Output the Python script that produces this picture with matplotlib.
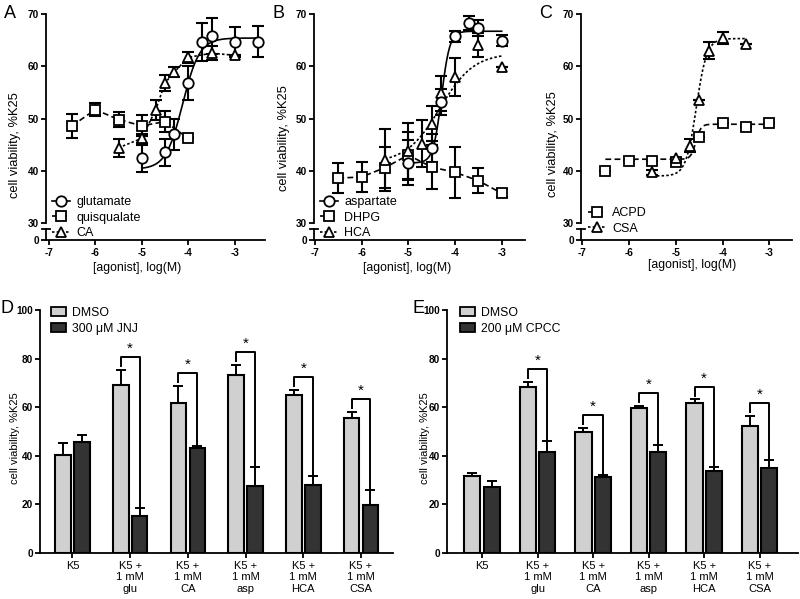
import matplotlib.pyplot as plt
import numpy as np
from matplotlib.lines import Line2D
from matplotlib.patches import Patch

plt.rcParams['font.family'] = ['Liberation Sans', 'DejaVu Sans']
plt.rcParams['axes.linewidth'] = 1.3
plt.rcParams['axes.unicode_minus'] = False

W, H = 800, 599

# ---------------- panel A ----------------
glu_x = [-5, -4.5, -4.3, -4, -3.7, -3.5, -3, -2.5]
glu_y = [42.4, 43.5, 47.0, 56.8, 64.6, 65.8, 64.7, 64.7]
glu_err = [2.6, 2.5, 3.0, 3.2, 3.6, 3.4, 2.9, 3.0]
glu_fit = [40.3, 65.4, -4.12, 2.4]          # bottom, top, logEC50, hill

quis_x = [-6.5, -6, -5.5, -5, -4.5, -4]
quis_y = [48.6, 51.7, 49.8, 48.6, 49.4, 46.2]
quis_err = [2.3, 1.2, 1.4, 2.0, 2.0, 0]

ca_x = [-5.5, -5, -4.7, -4.5, -4.3, -4, -3.5, -3]
ca_y = [44.4, 46.2, 51.7, 56.8, 58.9, 61.7, 62.5, 62.1]
ca_err = [1.7, 0.9, 1.9, 1.6, 1.0, 1.1, 1.3, 0]

# ---------------- panel B ----------------
asp_x = [-5, -4.5, -4.3, -4, -3.7, -3.5, -3]
asp_y = [41.5, 44.3, 53.1, 65.7, 68.3, 67.3, 64.9]
asp_err = [4.3, 2.7, 2.5, 1.1, 1.3, 1.6, 1.0]
asp_fit = [41.5, 66.7, -4.29, 4.9]

dhpg_x = [-6.5, -6, -5.5, -5, -4.5, -4, -3.5, -3]
dhpg_y = [38.6, 38.8, 40.6, 43.0, 40.7, 39.7, 38.1, 35.7]
dhpg_err = [2.8, 2.9, 3.9, 4.5, 4.2, 4.9, 2.4, 0.8]

hca_x = [-5.5, -5, -4.7, -4.5, -4.3, -4, -3.5, -3]
hca_y = [42.0, 43.7, 45.2, 49.0, 54.8, 58.0, 64.0, 59.8]
hca_err = [5.9, 5.5, 4.5, 3.3, 3.4, 3.6, 2.3, 0]
hca_fit = [41.5, 62.5, -4.32, 1.2]

# ---------------- panel C ----------------
acpd_x = [-6.5, -6, -5.5, -5, -4.5, -4, -3.5, -3]
acpd_y = [39.9, 41.9, 41.9, 41.6, 46.5, 49.1, 48.4, 49.1]
acpd_err = [0, 0, 0, 0, 0, 0, 0, 0]
acpd_fit = [42.2, 48.9, -4.57, 8.0]

csa_x = [-5.5, -5, -4.7, -4.5, -4.3, -4, -3.5]
csa_y = [39.7, 42.4, 44.8, 53.6, 63.0, 65.4, 64.3]
csa_err = [0.5, 0, 1.3, 0, 1.7, 1.2, 0]
csa_fit = [39.0, 65.3, -4.56, 3.9]

# ---------------- panels D / E ----------------
groups = ['K5', 'K5 +\n1 mM\nglu', 'K5 +\n1 mM\nCA', 'K5 +\n1 mM\nasp',
          'K5 +\n1 mM\nHCA', 'K5 +\n1 mM\nCSA']

d_dmso = [40.4, 69.2, 61.6, 73.3, 65.1, 55.5]
d_dmso_err = [4.8, 6.2, 7.3, 4.1, 2.1, 2.7]
d_jnj = [45.5, 15.3, 43.4, 27.4, 27.8, 19.9]
d_jnj_err = [2.9, 3.2, 0.5, 8.0, 3.7, 5.9]

e_dmso = [31.8, 68.2, 49.6, 59.5, 61.6, 52.3]
e_dmso_err = [1.2, 2.3, 1.8, 1.1, 1.6, 4.1]
e_cpcc = [27.3, 41.4, 31.1, 41.4, 33.6, 34.9]
e_cpcc_err = [2.2, 4.5, 0.8, 2.9, 1.8, 3.4]


def hill(x, p):
    bottom, top, logec50, slope = p
    return bottom + (top - bottom) / (1 + 10 ** ((logec50 - x) * slope))


def px_axes(fig, left, top, right, bottom):
    return fig.add_axes([left / W, 1 - bottom / H, (right - left) / W, (bottom - top) / H])


def curve_panel(fig, left, right, xlim):
    ax = px_axes(fig, left, 14, right, 223)
    axb = px_axes(fig, left, 229, right, 240)
    for a in (ax, axb):
        a.set_xlim(xlim)
        a.spines['top'].set_visible(False)
        a.spines['right'].set_visible(False)
        a.patch.set_alpha(0)
        a.tick_params(direction='out', length=3.5, width=1.3, pad=1.5)
    ax.spines['bottom'].set_visible(False)
    ax.set_ylim(30, 70)
    ax.set_yticks([30, 40, 50, 60, 70])
    ax.tick_params(axis='x', bottom=False, labelbottom=False)
    axb.set_ylim(0, 2)
    axb.set_yticks([0])
    axb.set_xticks([-7, -6, -5, -4, -3])
    axb.tick_params(axis='x', pad=2)
    axb.plot([-0.02, 0.02], [1, 1], transform=axb.transAxes, color='k', lw=1.3, clip_on=False)
    for lab in ax.get_yticklabels() + axb.get_yticklabels() + axb.get_xticklabels():
        lab.set_fontweight('bold')
        lab.set_fontsize(7.2)
    return ax, axb


LS = {'solid': '-', 'dash': (0, (3.5, 2)), 'dot': (0, (1.5, 1.3))}


def series(ax, x, y, err, marker, ls, fit=None, fit_range=None):
    if fit is not None:
        xs = np.linspace(fit_range[0], fit_range[1], 200)
        ax.plot(xs, hill(xs, fit), color='k', ls=LS[ls], lw=1.2, zorder=2)
    else:
        ax.plot(x, y, color='k', ls=LS[ls], lw=1.2, zorder=2)
    ax.errorbar(x, y, yerr=err, fmt='none', ecolor='k', elinewidth=1.5,
                capsize=4, capthick=1.5, zorder=3, clip_on=False)
    ax.plot(x, y, ls='none', marker=marker, ms=7.5, mfc='white', mec='k',
            mew=1.3, zorder=4, clip_on=False)


def handle(marker, ls):
    return Line2D([], [], color='k', ls=LS[ls], lw=1.2, marker=marker, ms=7.5,
                  mfc='white', mec='k', mew=1.3)


def curve_legend(fig, x, y, handles, labels):
    fig.legend(handles, labels, loc='upper left', bbox_to_anchor=(x / W, 1 - y / H),
               frameon=False, fontsize=9, handlelength=1.4, handletextpad=0.55,
               labelspacing=0.3, borderpad=0, borderaxespad=0)


fig = plt.figure(figsize=(8, 5.99), dpi=100)

# A
ax, axb = curve_panel(fig, 46, 265, (-7.06, -2.35))
series(ax, quis_x, quis_y, quis_err, 's', 'dash')
series(ax, ca_x, ca_y, ca_err, '^', 'dot')
series(ax, glu_x, glu_y, glu_err, 'o', 'solid', glu_fit, (-5, -2.5))
curve_legend(fig, 52, 196, [handle('o', 'solid'), handle('s', 'dash'), handle('^', 'dot')],
             ['glutamate', 'quisqualate', 'CA'])
fig.text(15 / W, 1 - 145 / H, 'cell viability, %K25', rotation=90, ha='center', va='center', fontsize=9.3)
fig.text(137 / W, 1 - 268 / H, '[agonist], log(M)', ha='center', va='center', fontsize=8.8)

# B
ax, axb = curve_panel(fig, 314, 525, (-7.02, -2.5))
series(ax, dhpg_x, dhpg_y, dhpg_err, 's', 'dash')
series(ax, hca_x, hca_y, hca_err, '^', 'dot', hca_fit, (-5.5, -3))
series(ax, asp_x, asp_y, asp_err, 'o', 'solid', asp_fit, (-5, -3))
curve_legend(fig, 320, 196, [handle('o', 'solid'), handle('s', 'dash'), handle('^', 'dot')],
             ['aspartate', 'DHPG', 'HCA'])
fig.text(284 / W, 1 - 138 / H, 'cell viability, %K25', rotation=90, ha='center', va='center', fontsize=9.3)
fig.text(407 / W, 1 - 268 / H, '[agonist], log(M)', ha='center', va='center', fontsize=8.8)

# C
ax, axb = curve_panel(fig, 581, 792, (-7.02, -2.52))
series(ax, acpd_x, acpd_y, acpd_err, 's', 'dash', acpd_fit, (-6.5, -3))
series(ax, csa_x, csa_y, csa_err, '^', 'dot', csa_fit, (-5.5, -3.5))
curve_legend(fig, 588, 207, [handle('s', 'dash'), handle('^', 'dot')], ['ACPD', 'CSA'])
fig.text(553 / W, 1 - 144 / H, 'cell viability, %K25', rotation=90, ha='center', va='center', fontsize=9.3)
fig.text(692 / W, 1 - 265 / H, '[agonist], log(M)', ha='center', va='center', fontsize=8.8)


def bar_panel(fig, left, right, xlim, dmso, dmso_err, drug, drug_err, drug_label,
              offset, width, legend_x, ylabel_x):
    ax = px_axes(fig, left, 310, right, 553)
    pos = np.arange(len(groups))
    light, dark = '#d0d0d0', '#333333'
    ax.bar(pos - offset, dmso, width, color=light, edgecolor='k', linewidth=1.5,
           yerr=[np.zeros(len(dmso)), dmso_err], capsize=3.5,
           error_kw=dict(elinewidth=1.4, capthick=1.4), label='DMSO')
    ax.bar(pos + offset, drug, width, color=dark, edgecolor='k', linewidth=1.5,
           yerr=[np.zeros(len(drug)), drug_err], capsize=3.5,
           error_kw=dict(elinewidth=1.4, capthick=1.4), label=drug_label)
    # significance brackets for the agonist groups
    for i in range(1, len(groups)):
        l_top = dmso[i] + dmso_err[i]
        r_top = drug[i] + drug_err[i]
        top = l_top + 5.2
        ax.plot([pos[i] - offset, pos[i] - offset, pos[i] + offset, pos[i] + offset],
                [l_top + 1.5, top, top, r_top + 0.7], color='k', lw=1.4)
        ax.text(pos[i], top + 0.6, '*', ha='center', va='bottom', fontsize=11)
    ax.set_xlim(xlim)
    ax.set_ylim(0, 100)
    ax.set_yticks([0, 20, 40, 60, 80, 100])
    ax.set_xticks(pos)
    ax.set_xticklabels(groups, fontsize=8, linespacing=1.2)
    ax.spines['top'].set_visible(False)
    ax.spines['right'].set_visible(False)
    ax.tick_params(direction='out', length=3.5, width=1.3, pad=1.5)
    ax.tick_params(axis='x', pad=2)
    for lab in ax.get_yticklabels():
        lab.set_fontweight('bold')
        lab.set_fontsize(7.2)
    handles = [Patch(facecolor=light, edgecolor='k', linewidth=1.3),
               Patch(facecolor=dark, edgecolor='k', linewidth=1.3)]
    fig.legend(handles, ['DMSO', drug_label], loc='upper left',
               bbox_to_anchor=(legend_x / W, 1 - 307 / H), frameon=False, fontsize=8.8,
               handlelength=1.25, handleheight=0.7, handletextpad=0.5,
               labelspacing=0.3, borderpad=0, borderaxespad=0)
    fig.text(ylabel_x / W, 1 - 438 / H, 'cell viability, %K25', rotation=90,
             ha='center', va='center', fontsize=8)


bar_panel(fig, 40, 393, (-0.563, 5.555), d_dmso, d_dmso_err, d_jnj, d_jnj_err,
          '300 \u03bcM JNJ', 0.164, 0.27, 51, 15)
bar_panel(fig, 447, 798, (-0.63, 5.69), e_dmso, e_dmso_err, e_cpcc, e_cpcc_err,
          '200 \u03bcM CPCC', 0.173, 0.29, 460, 425)

for lx, ly, letter in [(4, 5, 'A'), (272, 5, 'B'), (539, 5, 'C'), (0, 300, 'D'), (412, 300, 'E')]:
    fig.text(lx / W, 1 - ly / H, letter, fontsize=13, va='top', ha='left')

fig.savefig('out.png', dpi=100)
